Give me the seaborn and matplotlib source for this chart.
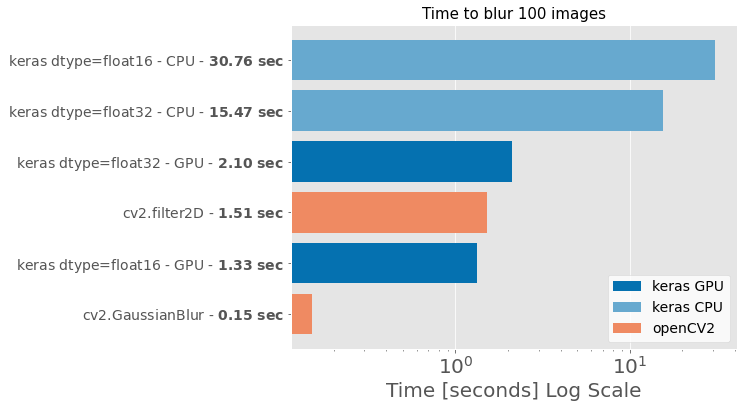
import matplotlib
matplotlib.use("Agg")
import matplotlib.pyplot as plt
import seaborn as sns
import pandas as pd

names = ["keras dtype=float16 - CPU", "keras dtype=float32 - CPU", "keras dtype=float32 - GPU",
         "cv2.filter2D", "keras dtype=float16 - GPU", "cv2.GaussianBlur"]
times = [30.76, 15.47, 2.10, 1.51, 1.33, 0.15]
groups = ["keras CPU", "keras CPU", "keras GPU", "openCV2", "keras GPU", "openCV2"]
hue_order = ["keras GPU", "keras CPU", "openCV2"]
colors = {"keras GPU": "#0571b0", "keras CPU": "#67a9cf", "openCV2": "#ef8a62"}

labels = [f"{n} - " + r"$\bf{" + f"{t:.2f}" + r"\ sec}$" for n, t in zip(names, times)]
df = pd.DataFrame({"label": labels, "time": times, "group": groups})

plt.style.use("ggplot")
fig = plt.figure(figsize=(743 / 72, 409 / 72), dpi=72)
ax = fig.add_axes([291 / 743, 0.147, 0.600, 0.792])
sns.barplot(data=df, y="label", x="time", hue="group", hue_order=hue_order,
            palette=colors, dodge=False, orient="h", ax=ax, width=0.8, saturation=1)
ax.set_xscale("log")
ax.set_xlim(0.114, 41)
ax.set_ylim(5.69, -0.69)
ax.set_ylabel("")
ax.set_xlabel("Time [seconds] Log Scale", fontsize=20, color="#555555")
ax.set_title("Time to blur 100 images", fontsize=15)
ax.tick_params(axis="y", labelsize=14)
ax.tick_params(axis="x", labelsize=20)
ax.legend(loc="lower right", fontsize=14, facecolor="white", framealpha=0.8)
fig.savefig("out.png", dpi=72)
